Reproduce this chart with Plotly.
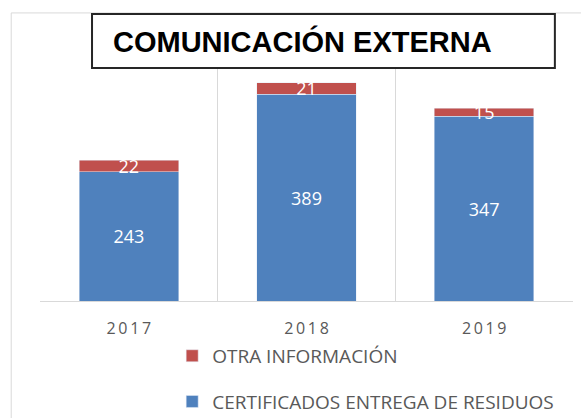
import plotly.graph_objects as go

years = ["2017", "2018", "2019"]
certificados = [243, 389, 347]
otra_info = [22, 21, 15]

title_text = "COMUNICACIÓN EXTERNA"
name_cert = "CERTIFICADOS ENTREGA DE RESIDUOS"
name_otra = "OTRA INFORMACIÓN"

BLUE = "#4f81bd"
RED = "#c0504d"
GRID = "#d9d9d9"
TXT = "#595959"

xpos = list(range(len(years)))
ticktext = ["\u2009".join(list(y)) for y in years]

fig = go.Figure()
fig.add_trace(go.Bar(
    x=xpos, y=certificados, name=name_cert, marker_color=BLUE,
    text=[str(v) for v in certificados], textposition="inside",
    insidetextanchor="middle", textangle=0,
    textfont=dict(color="white", size=18, family="Open Sans"),
    legendgroup="a", legendrank=2, hoverinfo="skip",
))
fig.add_trace(go.Bar(
    x=xpos, y=otra_info, name=name_otra, marker_color=RED,
    text=[str(v) for v in otra_info], textposition="inside",
    insidetextanchor="middle", textangle=0,
    textfont=dict(color="white", size=18, family="Open Sans"),
    legendgroup="b", legendrank=1, hoverinfo="skip",
))

fig.update_layout(
    width=581, height=418,
    margin=dict(l=40, r=8, t=35, b=117, autoexpand=False),
    barmode="stack", bargap=0.44,
    paper_bgcolor="white", plot_bgcolor="white",
    uniformtext=dict(minsize=18, mode="show"),
    font=dict(family="Open Sans", color=TXT),
    showlegend=True,
    legend=dict(
        x=0.248, y=-0.135, xanchor="left", yanchor="top",
        orientation="v", traceorder="grouped", tracegroupgap=18,
        font=dict(size=19, color=TXT, family="Open Sans"),
        bgcolor="rgba(0,0,0,0)",
    ),
    xaxis=dict(
        range=[-0.5, 2.5], tickvals=xpos, ticktext=ticktext,
        showgrid=False, zeroline=False, ticks="",
        tickfont=dict(size=16, color=TXT, family="Open Sans"),
        ticklabelstandoff=13,
        showline=True, linecolor=GRID, linewidth=1,
        minor=dict(tick0=-0.5, dtick=1, showgrid=True, gridcolor=GRID, gridwidth=1, ticks=""),
    ),
    yaxis=dict(range=[0, 500], visible=False, showgrid=False),
    shapes=[
        dict(type="rect", xref="paper", yref="paper", x0=-0.054, x1=1.1, y0=-0.5, y1=1.083,
             line=dict(color=GRID, width=1), fillcolor="rgba(0,0,0,0)", layer="below"),
        dict(type="rect", xref="paper", yref="paper", x0=0.0976, x1=0.966, y0=0.876, y1=1.079,
             line=dict(color="#262626", width=2), fillcolor="white", layer="above"),
    ],
    annotations=[
        dict(text=f"<b>{title_text}</b>", xref="paper", yref="paper", x=0.133, y=0.975,
             xanchor="left", yanchor="middle", showarrow=False,
             font=dict(family="Liberation Sans", size=29, color="black")),
    ],
)

fig.write_html("out.html", config={"displayModeBar": False},
               post_script="document.body.style.margin='0';")
